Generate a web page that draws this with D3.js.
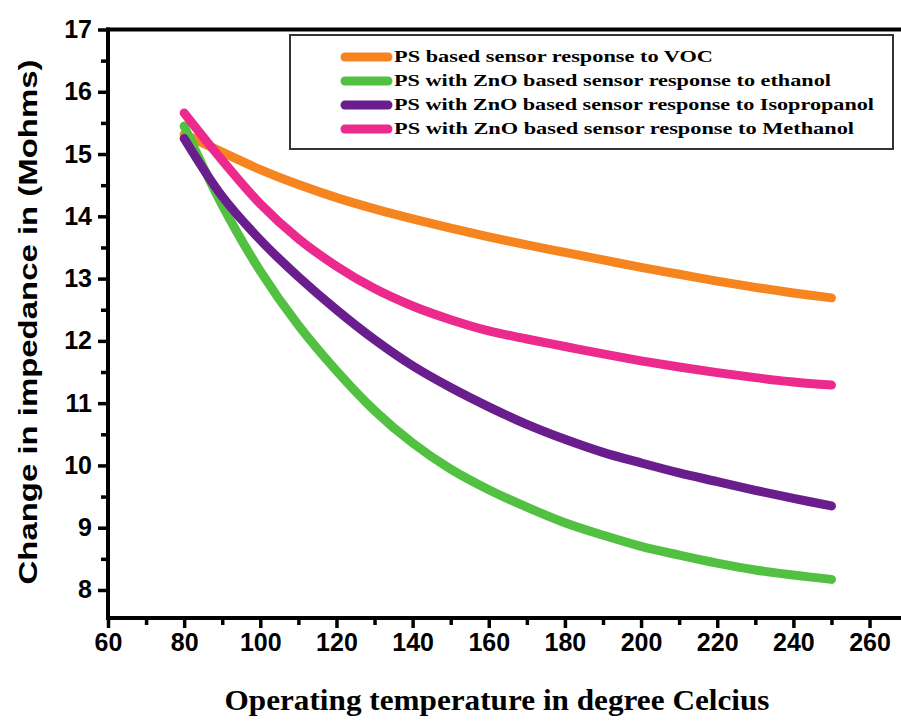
<!DOCTYPE html>
<html><head><meta charset="utf-8">
<script src="https://cdn.jsdelivr.net/npm/d3@7/dist/d3.min.js"></script>
<style>body{margin:0;background:#fff}svg{display:block}</style>
</head><body>
<svg id="c" width="901" height="728"></svg>
<script>
const temps = [80,90,100,110,120,130,140,150,160,170,180,190,200,210,220,230,240,250];
const vocPS      = [15.32,15.03,14.75,14.51,14.30,14.12,13.96,13.81,13.67,13.54,13.42,13.30,13.18,13.07,12.96,12.86,12.77,12.69];
const ethanolZnO = [15.45,14.18,13.12,12.25,11.52,10.88,10.36,9.94,9.61,9.33,9.08,8.88,8.70,8.56,8.43,8.32,8.24,8.17];
const isoZnO     = [15.25,14.32,13.62,13.03,12.50,12.02,11.60,11.25,10.94,10.66,10.42,10.21,10.04,9.88,9.74,9.60,9.47,9.35];
const methZnO    = [15.66,14.90,14.20,13.64,13.20,12.84,12.56,12.34,12.16,12.03,11.91,11.79,11.68,11.58,11.49,11.41,11.34,11.29];
const seriesNames = [
  "PS based sensor response to VOC",
  "PS with ZnO based sensor response to ethanol",
  "PS with ZnO based sensor response to Isopropanol",
  "PS with ZnO based sensor response to Methanol"
];
const seriesColors = ["#f6841f","#52c142","#6a1d8c","#ec2a8e"];
const xTicks = [60,80,100,120,140,160,180,200,220,240,260];
const yTicks = [8,9,10,11,12,13,14,15,16,17];
const xTitle = "Operating temperature in degree Celcius";
const yTitle = "Change in impedance in (Mohms)";

const seriesValues = [vocPS, ethanolZnO, isoZnO, methZnO];

const svg = d3.select("#c");
const x = d3.scaleLinear().domain([60,268]).range([108,900]);
const y = d3.scaleLinear().domain([7.55,17]).range([618,29.5]);

// curves
const line = d3.line().x(d=>x(d[0])).y(d=>y(d[1])).curve(d3.curveCatmullRom.alpha(0.5));
seriesValues.forEach((vals,i)=>{
  svg.append("path")
    .attr("d", line(temps.map((t,j)=>[t,vals[j]])))
    .attr("fill","none").attr("stroke",seriesColors[i])
    .attr("stroke-width",9).attr("stroke-linecap","round").attr("stroke-linejoin","round");
});

// axes
const axisW = 4;
const gx = svg.append("g").attr("transform",`translate(0,${y(7.55)})`)
  .call(d3.axisBottom(x).tickValues(xTicks).tickSize(10).tickPadding(4).tickFormat(d3.format("d")));
gx.append("g").call(d3.axisBottom(x).tickValues(d3.range(70,268,20)).tickSize(7).tickFormat(""));
const gy = svg.append("g").attr("transform",`translate(${x(60)},0)`)
  .call(d3.axisLeft(y).tickValues(yTicks).tickSize(10).tickPadding(6).tickFormat(d3.format("d")));
gy.append("g").call(d3.axisLeft(y).tickValues(d3.range(8.5,17,1)).tickSize(7).tickFormat(""));
svg.selectAll(".domain").remove();
svg.selectAll(".tick line").attr("stroke","#000").attr("stroke-width",3.5);
svg.selectAll(".tick text").attr("fill","#000")
  .style("font-family","'Liberation Sans',Arial,sans-serif").style("font-weight","bold").style("font-size","25px");
gx.selectAll(".tick text").attr("dy","0.76em");

// frame lines
svg.append("line").attr("x1",x(60)).attr("x2",x(60)).attr("y1",y(17)-2).attr("y2",y(7.55)+2)
  .attr("stroke","#000").attr("stroke-width",axisW);
svg.append("line").attr("x1",x(60)-2).attr("x2",901).attr("y1",y(7.55)).attr("y2",y(7.55))
  .attr("stroke","#000").attr("stroke-width",axisW);
svg.append("line").attr("x1",x(60)-2).attr("x2",901).attr("y1",y(17)).attr("y2",y(17))
  .attr("stroke","#000").attr("stroke-width",axisW);

// legend
const lg = svg.append("g");
lg.append("rect").attr("x",290).attr("y",35).attr("width",603).attr("height",114)
  .attr("fill","#fff").attr("stroke","#333").attr("stroke-width",2);
const legendLens = [319, 437, 480, 460];
seriesNames.forEach((n,i)=>{
  const yy = 57 + i*24;
  lg.append("line").attr("x1",345).attr("x2",388).attr("y1",yy).attr("y2",yy)
    .attr("stroke",seriesColors[i]).attr("stroke-width",9).attr("stroke-linecap","round");
  lg.append("text").attr("x",394).attr("y",yy+5).text(n)
    .attr("textLength",legendLens[i]).attr("lengthAdjust","spacingAndGlyphs")
    .style("font-family","'Liberation Serif','Times New Roman',serif").style("font-weight","bold").style("font-size","16px");
});

// titles
svg.append("text").attr("x",497).attr("y",710).attr("text-anchor","middle").text(xTitle)
  .attr("textLength",545).attr("lengthAdjust","spacingAndGlyphs")
  .style("font-family","'Liberation Serif','Times New Roman',serif").style("font-weight","bold").style("font-size","30px");
svg.append("text").attr("transform","translate(37,322) rotate(-90)").attr("text-anchor","middle").text(yTitle)
  .attr("textLength",525).attr("lengthAdjust","spacingAndGlyphs")
  .style("font-family","'Liberation Sans',Arial,sans-serif").style("font-weight","bold").style("font-size","25px");
</script>
</body></html>
